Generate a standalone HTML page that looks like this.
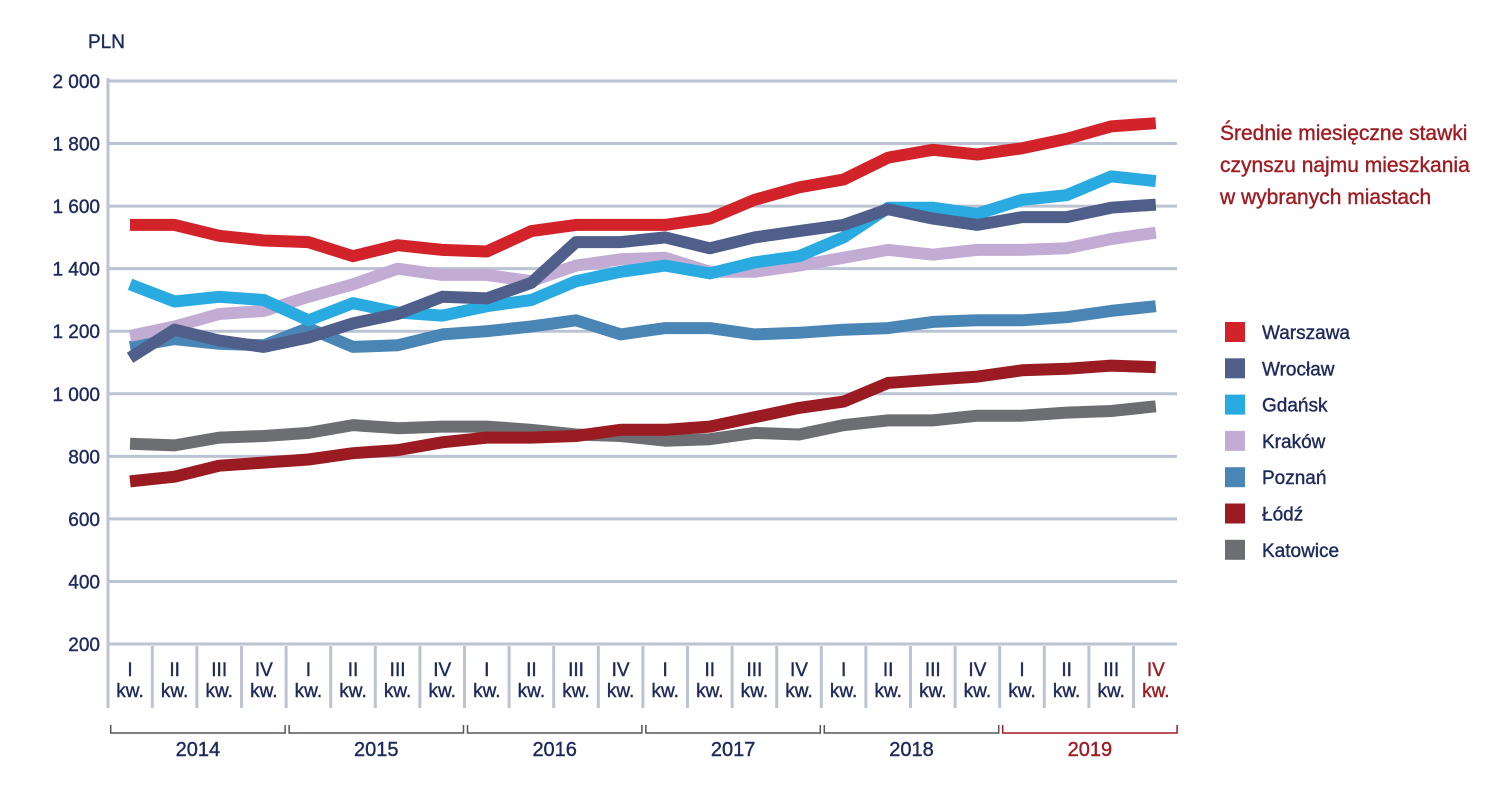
<!DOCTYPE html>
<html><head><meta charset="utf-8">
<style>
html,body{margin:0;padding:0;background:#fff;}
svg{display:block;font-family:"Liberation Sans",sans-serif;}
svg text{stroke-width:0.4;}
</style></head>
<body>
<svg id="chart" width="1505" height="790" viewBox="0 0 1505 790" xmlns="http://www.w3.org/2000/svg">
  <text x="88" y="48" font-size="19" fill="#1f2a5c" stroke="#1f2a5c">PLN</text>
  <g id="grid"></g>
  <g id="ylabels"></g>
  <g id="xaxis"></g>
  <g id="lines"></g>
  <g fill="#a01c22" stroke="#a01c22" font-size="21">
    <text x="1220" y="140">Średnie miesięczne stawki</text>
    <text x="1220" y="172">czynszu najmu mieszkania</text>
    <text x="1220" y="204">w wybranych miastach</text>
  </g>
  <g id="legend"></g>
</svg>
<script>
const categories = ["I","II","III","IV","I","II","III","IV","I","II","III","IV","I","II","III","IV","I","II","III","IV","I","II","III","IV"];
const years = ["2014","2015","2016","2017","2018","2019"];
const yTicks = [200,400,600,800,1000,1200,1400,1600,1800,2000];
const yTickLabels = ["200","400","600","800","1 000","1 200","1 400","1 600","1 800","2 000"];
const seriesNames = ["Warszawa","Wrocław","Gdańsk","Kraków","Poznań","Łódź","Katowice"];
const warszawa = [1540,1540,1505,1490,1485,1440,1475,1460,1455,1520,1540,1540,1540,1560,1620,1660,1685,1755,1780,1765,1785,1815,1855,1865];
const wroclaw = [1115,1205,1170,1150,1180,1225,1255,1310,1305,1355,1485,1485,1500,1465,1500,1520,1540,1590,1560,1540,1565,1565,1595,1605];
const gdansk = [1350,1295,1310,1300,1235,1290,1260,1250,1280,1300,1360,1390,1410,1385,1420,1440,1500,1595,1595,1575,1620,1635,1695,1680];
const krakow = [1185,1215,1255,1265,1310,1350,1400,1380,1380,1360,1410,1430,1435,1390,1390,1410,1435,1460,1445,1460,1460,1465,1495,1515];
const poznan = [1150,1175,1160,1155,1210,1150,1155,1190,1200,1215,1235,1190,1210,1210,1190,1195,1205,1210,1230,1235,1235,1245,1265,1280];
const lodz = [720,735,770,780,790,810,820,845,860,860,865,885,885,895,925,955,975,1035,1045,1055,1075,1080,1090,1085];
const katowice = [840,835,860,865,875,900,890,895,895,885,870,865,850,855,875,870,900,915,915,930,930,940,945,960];
const colors = ["#d2232a","#4f5f8a","#29abe2","#c3acd4","#4a86b5","#9b1b22","#6d6e71"];

const NS="http://www.w3.org/2000/svg";
const X0=130, STEP=44.6, PLOT_L=108, PLOT_R=1177;
function xs(i){return X0+i*STEP;}
function ys(v){return 81+(2000-v)/200*62.56;}
function mk(tag,attrs,parent){const e=document.createElementNS(NS,tag);for(const k in attrs)e.setAttribute(k,attrs[k]);parent.appendChild(e);return e;}

const grid=document.getElementById('grid');
const yl=document.getElementById('ylabels');
yTicks.forEach((t,i)=>{
  const l=mk('line',{x1:PLOT_L,x2:PLOT_R,y1:ys(t),y2:ys(t),stroke:'#bcc3d3','stroke-width':3},grid);
  
  
  const tx=mk('text',{x:100,y:ys(t)+7,'text-anchor':'end','font-size':19,fill:'#1f2a5c',stroke:'#1f2a5c'},yl);
  tx.textContent=yTickLabels[i];
  
  
});
const ax=mk('line',{x1:PLOT_L,x2:PLOT_L,y1:78,y2:708,stroke:'#bcc3d3','stroke-width':3},grid);



const xa=document.getElementById('xaxis');
categories.forEach((c,i)=>{
  const last=i===categories.length-1;
  const col=last?'#a01c22':'#1f2a5c';
  const g=mk('g',{},xa);
  
  
  const t1=mk('text',{x:xs(i),y:676,'text-anchor':'middle','font-size':19,fill:col,stroke:col},g);t1.textContent=c;
  const t2=mk('text',{x:xs(i),y:697,'text-anchor':'middle','font-size':19,fill:col,stroke:col},g);t2.textContent='kw.';
  if(!last){
    const s=mk('line',{x1:xs(i)+STEP/2,x2:xs(i)+STEP/2,y1:646,y2:708,stroke:'#bcc3d3','stroke-width':3},xa);
    
    
  }
});
years.forEach((y,k)=>{
  const col=k===years.length-1?'#a01c22':'#55565a';
  const tcol=k===years.length-1?'#a01c22':'#1f2a5c';
  const l=xs(k*4)-STEP/2+3, r=xs(k*4+3)+STEP/2-1;
  const p=mk('path',{d:`M${l} 725V733H${r}V725`,fill:'none',stroke:col,'stroke-width':1.5},xa);
  
  
  const t=mk('text',{x:(l+r)/2,y:756,'text-anchor':'middle','font-size':20,fill:tcol,stroke:tcol},xa);
  t.textContent=y;
  
  
});

const all=[warszawa,wroclaw,gdansk,krakow,poznan,lodz,katowice];
const ln=document.getElementById('lines');
for(let s=all.length-1;s>=0;s--){
  const d=all[s].map((v,i)=>(i?'L':'M')+xs(i).toFixed(1)+' '+ys(v).toFixed(1)).join(' ');
  const p=mk('path',{d:d,fill:'none',stroke:colors[s],'stroke-width':12,'stroke-linejoin':'round'},ln);
  
  
}

const lg=document.getElementById('legend');
seriesNames.forEach((n,i)=>{
  const cy=332+i*36.3;
  const g=mk('g',{},lg);
  
  
  mk('rect',{x:1225,y:cy-10,width:20,height:20,fill:colors[i]},g);
  const t=mk('text',{x:1262,y:cy+7,'font-size':19,fill:'#1f2a5c',stroke:'#1f2a5c'},g);t.textContent=n;
});
</script>
</body></html>
